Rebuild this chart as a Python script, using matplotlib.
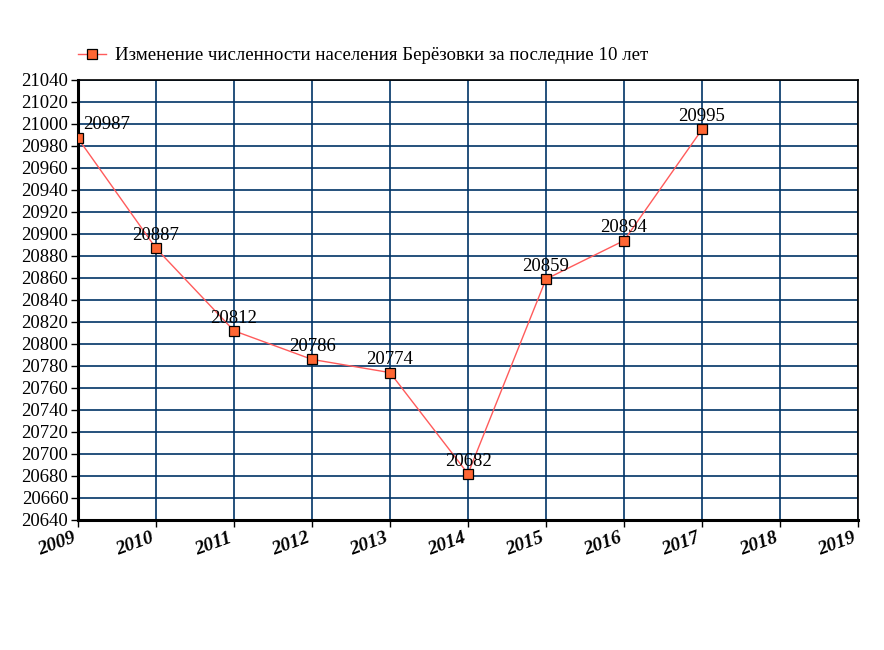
import matplotlib
matplotlib.use('Agg')
import matplotlib.pyplot as plt

# data
years = [2009, 2010, 2011, 2012, 2013, 2014, 2015, 2016, 2017]
population = [20987, 20887, 20812, 20786, 20774, 20682, 20859, 20894, 20995]
xticks = list(range(2009, 2020))
yticks = list(range(20640, 21041, 20))
legend_label = 'Изменение численности населения Берёзовки за последние 10 лет'

plt.rcParams['font.family'] = ['Liberation Serif', 'DejaVu Serif']

fig = plt.figure(figsize=(8.84, 6.5), dpi=100)
ax = fig.add_axes([78/884, 1-520/650, 780/884, 440/650])

ax.plot(years, population, color='#ff5b5b', lw=1.0, marker='s', ms=7,
        mfc='#ff6633', mec='black', mew=0.9, label=legend_label, zorder=3)

for i, (x, y) in enumerate(zip(years, population)):
    if i == 0:
        ax.annotate(str(y), (x, y), xytext=(4, 4), textcoords='offset points',
                    ha='left', va='bottom', fontsize=13.5)
    else:
        ax.annotate(str(y), (x, y), xytext=(0, 3), textcoords='offset points',
                    ha='center', va='bottom', fontsize=13.5)

ax.set_xlim(2009, 2019)
ax.set_ylim(20640, 21040)
ax.set_xticks(xticks)
ax.set_yticks(yticks)
ax.set_xticklabels([str(t) for t in xticks], rotation=20, ha='right',
                   fontsize=14, style='italic', fontweight='bold')
ax.set_yticklabels([str(t) for t in yticks], fontsize=13.5)
ax.tick_params(axis='x', length=5, width=1, pad=2)
ax.tick_params(axis='y', length=5, width=1, pad=2)
ax.grid(True, color='#003366', lw=1.2)
ax.set_axisbelow(True)

for s in ['left', 'bottom']:
    ax.spines[s].set_linewidth(2.2)
for s in ['top', 'right']:
    ax.spines[s].set_linewidth(1.2)
    ax.spines[s].set_color('black')

leg = fig.legend(loc='upper left', bbox_to_anchor=(78/884, 1-47/650), frameon=False,
                 fontsize=13.6, handlelength=1.5, handletextpad=0.45, borderaxespad=0,
                 borderpad=0)

fig.savefig('out.png', dpi=100)
